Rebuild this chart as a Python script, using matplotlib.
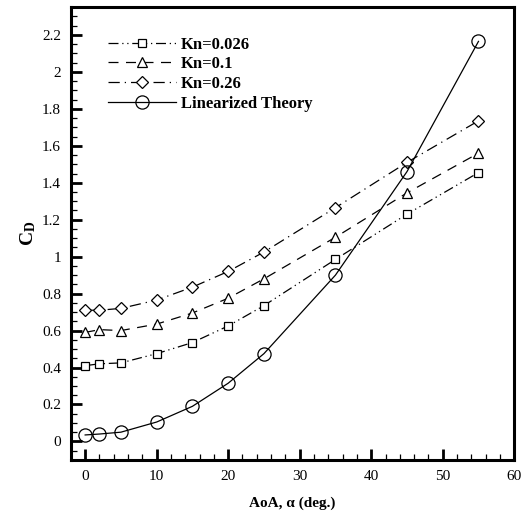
import matplotlib
matplotlib.use("Agg")
import matplotlib.pyplot as plt
from matplotlib.ticker import MultipleLocator

plt.rcParams['font.family'] = ['Liberation Serif', 'DejaVu Serif']
plt.rcParams['mathtext.fontset'] = 'custom'
plt.rcParams['mathtext.rm'] = 'Liberation Serif'
plt.rcParams['mathtext.bf'] = 'Liberation Serif:bold'
plt.rcParams['mathtext.it'] = 'Liberation Serif:italic'

# angle of attack (deg)
aoa = [0, 2, 5, 10, 15, 20, 25, 35, 45, 55]

# drag coefficient for each case
cd_kn0026 = [0.41, 0.42, 0.425, 0.475, 0.535, 0.625, 0.735, 0.985, 1.23, 1.455]
cd_kn01 = [0.59, 0.605, 0.60, 0.635, 0.695, 0.775, 0.88, 1.105, 1.345, 1.56]
cd_kn026 = [0.71, 0.71, 0.72, 0.765, 0.835, 0.92, 1.025, 1.265, 1.51, 1.735]
cd_linear = [0.035, 0.04, 0.05, 0.105, 0.19, 0.315, 0.475, 0.9, 1.46, 2.165]

labels = ["Kn=0.026", "Kn=0.1", "Kn=0.26", "Linearized Theory"]

fig = plt.figure(figsize=(5.21, 5.15), dpi=100)
ax = fig.add_axes([0.136, 0.107, 0.851, 0.879])

lw = 0.9
ax.plot(aoa, cd_kn0026, color='k', lw=lw, linestyle=(0, (8, 3, 1, 3, 1, 3)),
        marker='s', ms=6.3, mfc='white', mec='k', mew=0.9, label=labels[0])
ax.plot(aoa, cd_kn01, color='k', lw=lw, linestyle=(0, (8, 6)),
        marker='^', ms=7.5, mfc='white', mec='k', mew=0.9, label=labels[1])
ax.plot(aoa, cd_kn026, color='k', lw=lw, linestyle=(0, (9, 4, 1, 4)),
        marker='D', ms=6.3, mfc='white', mec='k', mew=0.9, label=labels[2])
ax.plot(aoa, cd_linear, color='k', lw=lw, linestyle='-',
        marker='o', ms=9.5, mfc='none', mec='k', mew=0.9, label=labels[3])

ax.set_xlim(-2, 60)
ax.set_ylim(-0.1, 2.35)
ax.xaxis.set_major_locator(MultipleLocator(10))
ax.xaxis.set_minor_locator(MultipleLocator(2))
ax.yaxis.set_minor_locator(MultipleLocator(0.05))
ax.set_yticks([0, 0.2, 0.4, 0.6, 0.8, 1.0, 1.2, 1.4, 1.6, 1.8, 2.0, 2.2])
ax.set_yticklabels(["0", "0.2", "0.4", "0.6", "0.8", "1", "1.2", "1.4", "1.6", "1.8", "2", "2.2"])

ax.tick_params(which='major', direction='in', length=8, width=2, labelsize=11, pad=7,
               top=False, right=False)
ax.tick_params(which='minor', direction='in', length=4, width=0.9, top=False, right=False)
for sp in ax.spines.values():
    sp.set_linewidth(2.2)

ax.set_xlabel("AoA, α (deg.)", fontsize=11, fontweight='bold', labelpad=10)
ax.set_ylabel(r"$\mathbf{C}_\mathbf{D}$", fontsize=14, labelpad=3)

leg = ax.legend(loc='upper left', bbox_to_anchor=(0.0835, 0.935), frameon=False,
                borderpad=0, borderaxespad=0, handlelength=4.1, handletextpad=0.3,
                labelspacing=0.22, prop={'weight': 'bold', 'size': 12})

fig.savefig("out.png", dpi=100)
